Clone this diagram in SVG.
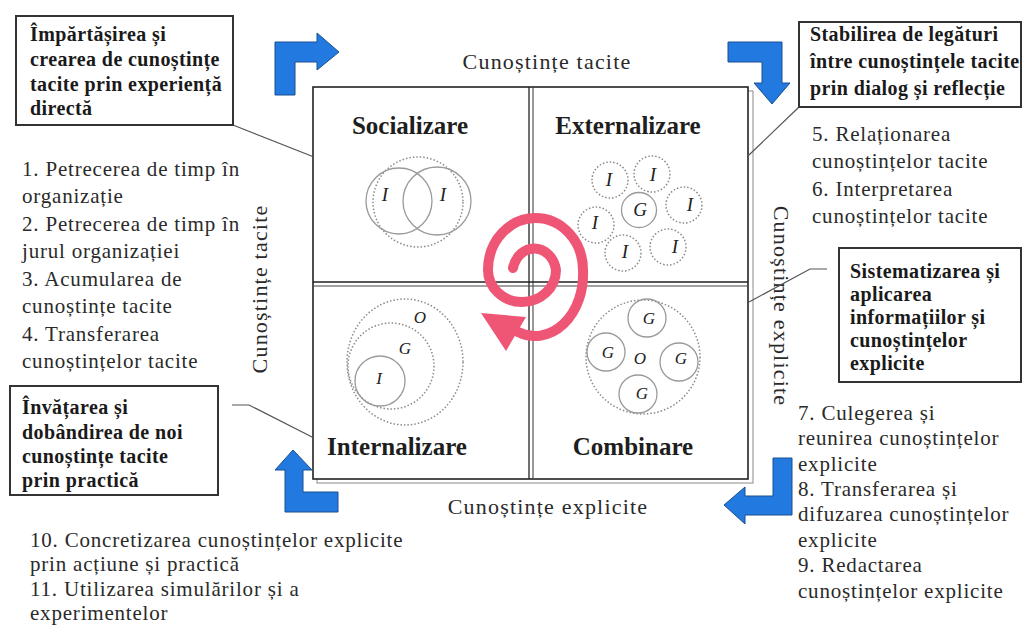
<svg xmlns="http://www.w3.org/2000/svg" width="1026" height="625" viewBox="0 0 1026 625">
<style>
.t{font-family:"Liberation Serif","Times New Roman",serif;font-size:21px;letter-spacing:0.8px;fill:#2a2a2a}
.b{font-family:"Liberation Serif","Times New Roman",serif;font-size:20px;font-weight:bold;letter-spacing:0.4px;fill:#1a1a1a}
.q{font-family:"Liberation Serif","Times New Roman",serif;font-size:25px;font-weight:bold;fill:#1e1e1e;text-anchor:middle}
.ax{font-family:"Liberation Serif","Times New Roman",serif;font-size:22px;letter-spacing:1.2px;fill:#2a2a2a;text-anchor:middle}
.lb{font-family:"Liberation Serif","Times New Roman",serif;font-style:italic;font-size:19px;fill:#222;text-anchor:middle}
.ls{font-family:"Liberation Serif","Times New Roman",serif;font-style:italic;font-size:17px;fill:#222;text-anchor:middle}
.box{fill:#fff;stroke:#333;stroke-width:2}
.sol{fill:none;stroke:#9a9a9a;stroke-width:1.3}
.dot{fill:none;stroke:#8a8a8a;stroke-width:1.5;stroke-dasharray:1.5 2}
.arr{fill:#2279e0;stroke:#1b4f8f;stroke-width:1}
.con{fill:none;stroke:#555;stroke-width:1.2}
</style>

<g id="matrix">
  <rect x="317" y="91" width="436" height="392" fill="none" stroke="#8a8a8a" stroke-width="1"/>
  <rect x="313" y="87" width="435" height="392" fill="#fff" stroke="#222" stroke-width="1.6"/>
  <line x1="529" y1="87" x2="529" y2="479" stroke="#222" stroke-width="1.3"/>
  <line x1="533" y1="87" x2="533" y2="479" stroke="#444" stroke-width="1.1"/>
  <line x1="313" y1="282" x2="748" y2="282" stroke="#222" stroke-width="1.3"/>
  <line x1="313" y1="286" x2="748" y2="286" stroke="#444" stroke-width="1.1"/>
</g>

<g id="socializare">
  <text class="q" x="410" y="134">Socializare</text>
  <circle class="dot" cx="418" cy="202" r="45"/>
  <circle class="sol" cx="399" cy="201" r="33"/>
  <circle class="sol" cx="437" cy="201" r="34"/>
  <text class="lb" x="385" y="201">I</text>
  <text class="lb" x="443" y="201">I</text>
</g>

<g id="externalizare">
  <text class="q" x="628" y="134">Externalizare</text>
  <circle class="sol" cx="639" cy="210" r="17.5"/>
  <circle class="dot" cx="610" cy="180" r="18"/>
  <circle class="dot" cx="652" cy="174" r="18"/>
  <circle class="dot" cx="684" cy="205" r="18"/>
  <circle class="dot" cx="596" cy="225" r="18"/>
  <circle class="dot" cx="623" cy="253" r="18"/>
  <circle class="dot" cx="668" cy="247" r="18"/>
  <text class="lb" x="640" y="216">G</text>
  <text class="lb" x="609" y="186">I</text>
  <text class="lb" x="653" y="181">I</text>
  <text class="lb" x="690" y="211">I</text>
  <text class="lb" x="595" y="229">I</text>
  <text class="lb" x="625" y="258">I</text>
  <text class="lb" x="675" y="253">I</text>
</g>

<g id="internalizare">
  <text class="q" x="397" y="455">Internalizare</text>
  <ellipse class="dot" cx="405" cy="362" rx="58" ry="63"/>
  <circle class="dot" cx="391" cy="366" r="43"/>
  <circle class="sol" cx="380" cy="381" r="25"/>
  <text class="ls" x="420" y="323">O</text>
  <text class="ls" x="405" y="354">G</text>
  <text class="ls" x="379" y="384">I</text>
</g>

<g id="combinare">
  <text class="q" x="633" y="455">Combinare</text>
  <circle class="dot" cx="643" cy="357" r="57"/>
  <circle class="sol" cx="647" cy="318" r="19"/>
  <circle class="sol" cx="606" cy="352" r="19"/>
  <circle class="sol" cx="679" cy="362" r="19"/>
  <circle class="sol" cx="638" cy="394" r="19"/>
  <text class="ls" x="649" y="324">G</text>
  <text class="ls" x="608" y="358">G</text>
  <text class="ls" x="681" y="364">G</text>
  <text class="ls" x="642" y="399">G</text>
  <text class="ls" x="640" y="364">O</text>
</g>

<g id="spiral">
  <path d="M 513,268 A 22 26 0 0 1 556,270 A 34 32 0 0 1 488,270 A 47.5 52 0 0 1 583,270 A 48 62 0 0 1 518,332" fill="none" stroke="#ef5675" stroke-width="10" stroke-linecap="round"/>
  <polygon points="481,313 526,317 506,351" fill="#ef5675"/>
</g>

<g id="axis-labels">
  <text class="ax" x="547" y="69">Cunoștințe tacite</text>
  <text class="ax" x="548" y="514">Cunoștințe explicite</text>
  <text class="ax" transform="translate(267,289) rotate(-90)" x="0" y="0">Cunoștințe tacite</text>
  <text class="ax" transform="translate(774,306) rotate(90)" x="0" y="0">Cunoștințe explicite</text>
</g>

<g id="arrows">
  <polygon class="arr" points="275,95 275,42 317,42 317,33 339,52 317,70 317,62 295,62 295,95"/>
  <polygon class="arr" points="728,42 782,42 782,83 790,83 772,104 754,83 762,83 762,62 728,62"/>
  <polygon class="arr" points="293,450 312,470 303,470 303,492 338,492 338,512 285,512 285,470 275,470"/>
  <polygon class="arr" points="792,458 792,515 745,515 745,524 724,505 745,487 745,496 773,496 773,458"/>
</g>

<g id="connectors">
  <line class="con" x1="233" y1="125" x2="314" y2="157"/>
  <line class="con" x1="799" y1="107" x2="749" y2="155"/>
  <polyline class="con" points="827,269 810,269 749,302"/>
  <polyline class="con" points="232,405 249,405 314,438"/>
</g>

<g id="box-socializare">
  <rect class="box" x="16" y="16" width="217" height="109"/>
  <text class="b" x="30"><tspan x="30" y="41">Împărtășirea și</tspan><tspan x="30" y="66">crearea de cunoștințe</tspan><tspan x="30" y="91">tacite prin experiență</tspan><tspan x="30" y="115">directă</tspan></text>
</g>

<g id="box-externalizare">
  <rect class="box" x="799" y="22" width="222" height="85"/>
  <text class="b" x="810"><tspan x="810" y="41">Stabilirea de legături</tspan><tspan x="810" y="68">între cunoștințele tacite</tspan><tspan x="810" y="95">prin dialog și reflecție</tspan></text>
</g>

<g id="box-combinare">
  <rect class="box" x="839" y="248" width="182" height="134"/>
  <text class="b" x="850"><tspan x="850" y="278">Sistematizarea și</tspan><tspan x="850" y="301">aplicarea</tspan><tspan x="850" y="324">informațiilor și</tspan><tspan x="850" y="347">cunoștințelor</tspan><tspan x="850" y="370">explicite</tspan></text>
</g>

<g id="box-internalizare">
  <rect class="box" x="10" y="386" width="208" height="109"/>
  <text class="b" x="22"><tspan x="22" y="414">Învățarea și</tspan><tspan x="22" y="439">dobândirea de noi</tspan><tspan x="22" y="463">cunoștințe tacite</tspan><tspan x="22" y="487">prin practică</tspan></text>
</g>

<g id="list-socializare">
  <text class="t"><tspan x="22" y="176">1. Petrecerea de timp în</tspan><tspan x="22" y="203">organizație</tspan><tspan x="22" y="231">2. Petrecerea de timp în</tspan><tspan x="22" y="258">jurul organizației</tspan><tspan x="22" y="286">3. Acumularea de</tspan><tspan x="22" y="313">cunoștințe tacite</tspan><tspan x="22" y="341">4. Transferarea</tspan><tspan x="22" y="368">cunoștințelor tacite</tspan></text>
</g>

<g id="list-externalizare">
  <text class="t"><tspan x="812" y="141">5. Relaționarea</tspan><tspan x="812" y="168">cunoștințelor tacite</tspan><tspan x="812" y="196">6. Interpretarea</tspan><tspan x="812" y="223">cunoștințelor tacite</tspan></text>
</g>

<g id="list-combinare">
  <text class="t"><tspan x="798" y="420">7. Culegerea și</tspan><tspan x="798" y="445">reunirea cunoștințelor</tspan><tspan x="798" y="471">explicite</tspan><tspan x="798" y="496">8. Transferarea și</tspan><tspan x="798" y="521">difuzarea cunoștințelor</tspan><tspan x="798" y="547">explicite</tspan><tspan x="798" y="572">9. Redactarea</tspan><tspan x="798" y="598">cunoștințelor explicite</tspan></text>
</g>

<g id="list-internalizare">
  <text class="t"><tspan x="30" y="547">10. Concretizarea cunoștințelor explicite</tspan><tspan x="30" y="571">prin acțiune și practică</tspan><tspan x="30" y="596">11. Utilizarea simulărilor și a</tspan><tspan x="30" y="620">experimentelor</tspan></text>
</g>
</svg>
